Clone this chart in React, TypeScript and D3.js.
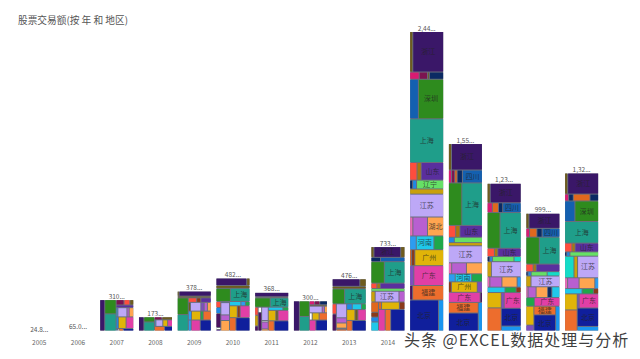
import React from "react";
import * as d3 from "d3";

type N = [string, number] | N[];

const years = ["2005","2006","2007","2008","2009","2010","2011","2012","2013","2014","2015","2016","2017","2018","2019"];
const visibleTicks = ["2005","2006","2007","2008","2009","2010","2011","2012","2013","2014"];
const totals = [24.8,65,310,173,378,482,368,300,476,733,2449,1555,1238,999,1320];
const totalLabels = ["24.8...","65.0...","310...","173...","378...","482...","368...","300...","476...","733...","2,44...","1,55...","1,23...","999...","1,32..."];

const regionColors: Record<string,string> = {
  浙江:"#3a1768",陕西:"#6e5c1e",天津:"#d81b72",重庆:"#7b1450",吉林:"#0b2a63",黑龙江:"#e0681e",四川:"#1460b0",
  深圳:"#2e8b1e",上海:"#1f9e8a",河北:"#ff4d3d",山西:"#a8780f",山东:"#5a2f9e",新疆:"#0e4f6b",云南:"#1e88e5",
  辽宁:"#66e066",贵州:"#c9a00a",江苏:"#bda8f7",甘肃:"#e86bb8",广西:"#b85fd0",湖北:"#ffa550",海南:"#2d9cf0",
  河南:"#1fc8ea",内蒙古:"#1fa84a",宁夏:"#8a3a1a",广州:"#e0b408",青海:"#7d4ec0",广东:"#e13fa6",西藏:"#4a1260",
  福建:"#ed6d2d",北京:"#101f9c",厦门:"#1a96f0",湖南:"#14dcc8",澳门:"#ffffff",
};

const bar2005: N[] = [["北京",24.8]];
const bar2006: N[] = [["北京",65]];
const bar2007: N[] = [[
  [["浙江",38]],
  [["深圳",31],["上海",56]],
  [
    [["重庆",8],["河北",6],["陕西",4]],
    [["山东",9]],
    [["海南",3],["江苏",16],["广西",4],["湖北",8]],
    [["云南",5],["广州",17],["广东",17]],
    [["云南",3],["澳门",3],["福建",9],["北京",22]],
  ],
]];
const bar2008: N[] = [[
  [["浙江",27]],
  [["深圳",12],["上海",41]],
  [
    [["重庆",5],["陕西",7]],
    [["海南",2],["江苏",10],["广州",7],["广东",7]],
    [["福建",29],["北京",23]],
  ],
]];
const bar2009: N[] = [
  [["陕西",2],["浙江",34]],
  [["陕西",12]],
  [
    [["深圳",39],["上海",58]],
    [
      [["河北",8],["宁夏",4],["山东",10]],
      [["陕西",4],["江苏",19],["青海",6],["广西",6],["湖北",7]],
      [["海南",6],["广州",17],["内蒙古",5],["福建",15]],
      [["海南",12],["广东",37],["北京",45]],
    ],
  ],
];
const bar2010: N[] = [
  [["浙江",47],["陕西",5]],
  [["陕西",20]],
  [["深圳",39],["上海",53]],
  [
    [["河北",6],["云南",6],["西藏",14],["澳门",2],["山东",10]],
    [["云南",2],["江苏",22],["广西",10],["湖北",34]],
    [
      [["河南",10],["海南",4],["内蒙古",4]],
      [["广州",19],["宁夏",7],["广东",24]],
      [["福建",29],["北京",63]],
    ],
  ],
];
const bar2011: N[] = [
  [["浙江",32]],
  [["陕西",8]],
  [["深圳",31],["上海",37]],
  [
    [["河北",6],["贵州",8],["西藏",10]],
    [["澳门",4],["西藏",20]],
    [["江苏",19],["澳门",2],["广西",10],["湖北",15]],
    [
      [["河南",10],["内蒙古",4]],
      [["广州",17],["陕西",5],["广东",24]],
      [["福建",24],["北京",58]],
    ],
  ],
];
const bar2012: N[] = [[
  [["浙江",46]],
  [["深圳",31],["上海",46]],
  [
    [["天津",4],["重庆",4],["吉林",6]],
    [["陕西",5]],
    [["江苏",17],["广西",3],["湖北",4]],
    [["澳门",4],["广州",10],["福建",12]],
    [["广东",25],[["北京",25],["四川",20]]],
  ],
]];
const bar2013: N[] = [
  [["浙江",39],["陕西",9]],
  [["陕西",16]],
  [["深圳",35],["上海",61]],
  [
    [["河北",8],["西藏",20]],
    [["江苏",27],["广西",10],["湖北",10],["澳门",2],["福建",20]],
    [
      [["云南",6],["河南",10],["内蒙古",5]],
      [["广州",17],["陕西",6],["广东",17]],
      [["福建",20],["北京",50]],
    ],
  ],
];
const bar2014: N[] = [
  [["陕西",7],["浙江",63],["陕西",10]],
  [["吉林",9],["四川",23]],
  [["深圳",63],["上海",97]],
  [["河北",7],["山西",4],["山东",29]],
  [["辽宁",20]],
  [["贵州",10],["江苏",56],["广西",14]],
  [
    [["黑龙江",17],["宁夏",8],["云南",8],["河南",17],["内蒙古",12]],
    [
      [["黑龙江",5],["广州",29],["宁夏",9]],
      [["广东",44],["福建",36],["北京",94]],
    ],
  ],
];
const bar2015: N[] = [
  [["陕西",29],["浙江",290]],
  [["天津",16],["重庆",14],["陕西",3],["吉林",24]],
  [["四川",80],["深圳",231]],
  [["上海",344]],
  [["河北",30],["山西",17],["山东",92]],
  [["吉林",6],["云南",8],["辽宁",55]],
  [["贵州",41]],
  [["江苏",180]],
  [["甘肃",14],["广西",64],["湖北",71]],
  [["海南",21],["河南",56],["内蒙古",31]],
  [["黑龙江",7],["宁夏",12],["广州",107]],
  [["青海",19],["广东",137]],
  [["西藏",10],["福建",104]],
  [["北京",264],["厦门",47]],
];
const bar2016: N[] = [
  [["陕西",18],["浙江",181]],
  [["天津",9],["重庆",9],["黑龙江",7],["吉林",15],["四川",57]],
  [["深圳",126],["上海",194]],
  [["河北",19],["山西",11],["山东",59]],
  [["云南",7],["辽宁",33]],
  [["贵州",24]],
  [["江苏",128]],
  [["甘肃",8],["广西",36],["湖北",39]],
  [["海南",12],["河南",29],["内蒙古",19]],
  [["宁夏",7],["广州",60],["青海",12]],
  [["广东",71],["西藏",5]],
  [[["福建",70],["北京",175]],[["厦门",34]]],
];
const bar2017: N[] = [
  [["陕西",13],["浙江",131]],
  [["天津",11],["黑龙江",13],["吉林",9],["四川",39]],
  [["深圳",100],["上海",164]],
  [["河北",13],["山西",6],["山东",42]],
  [["吉林",3],["云南",3],["辽宁",24],["湖南",8]],
  [["贵州",14],["江苏",98]],
  [["甘肃",6],["广西",27],["湖北",34],["海南",9]],
  [["河南",21],["内蒙古",13],["宁夏",6]],
  [
    [["广州",47],["福建",97]],
    [[["青海",10],["广东",58]],[["北京",77]],[["厦门",58]]],
  ],
];
const bar2018: N[] = [
  [["陕西",10],["浙江",102]],
  [["天津",7],["黑龙江",14],["吉林",10],["四川",34]],
  [["深圳",79],["上海",121]],
  [["河北",12],["山西",5],["山东",39]],
  [["吉林",2],["云南",3],["辽宁",15],["湖南",12]],
  [["贵州",12],["江苏",68]],
  [["甘肃",5],["广西",19],["湖北",27],["吉林",10],["河南",19]],
  [["内蒙古",16],["广东",48]],
  [
    [["广州",33],["青海",25]],
    [["福建",41],["北京",117]],
    [["厦门",31]],
  ],
];
const bar2019: N[] = [
  [["陕西",14],["浙江",142]],
  [["天津",6],["吉林",7],["黑龙江",25],["吉林",13]],
  [["四川",46],["深圳",106]],
  [["上海",160]],
  [["河北",14],["山西",6],["山东",45]],
  [["吉林",2],["云南",3],["辽宁",27]],
  [["湖南",44],["贵州",17],["江苏",99]],
  [["甘肃",7],["广西",27],["湖北",37],["海南",9]],
  [["河南",20],["内蒙古",13],["宁夏",6]],
  [
    [["广州",44],["福建",81]],
    [[["青海",6],["广东",60]],[["北京",86]],[["厦门",61]]],
  ],
];
const bars = [bar2005,bar2006,bar2007,bar2008,bar2009,bar2010,bar2011,bar2012,bar2013,bar2014,bar2015,bar2016,bar2017,bar2018,bar2019];

const isLeaf = (n: N): n is [string, number] => typeof n[0] === "string";

const x = d3.scaleBand<string>().domain(years).range([19.9, 601]).paddingInner(0.148).paddingOuter(0.074);
const y = d3.scaleLinear().domain([0, 2449]).range([339, 32]);
const font = "'Noto Sans CJK SC','Noto Sans',sans-serif";

function cellsFor(bar: N[], w: number, h: number) {
  const root = d3.hierarchy<N>(bar as N, (d) => (isLeaf(d) ? null : d))
    .sum((d) => (isLeaf(d) ? d[1] : 0));
  const tile = (node: any, a: number, b: number, c: number, e: number) =>
    (node.depth % 2 === 0 ? d3.treemapSlice : d3.treemapDice)(node, a, b, c, e);
  return d3.treemap<N>().tile(tile).size([w, h]).paddingInner(1).round(false)(root).leaves();
}

export default function App() {
  return (
    <svg width={640} height={359} style={{ position: "absolute", left: 0, top: 0, background: "#fff" }}>
      <defs>
        <clipPath id="plot"><rect x={0} y={0} width={640} height={330.5} /></clipPath>
      </defs>
      <text x={18} y={23.5} fontSize={9.7} fontFamily={font} fill="#555">股票交易额(按 年 和 地区)</text>
      <g clipPath="url(#plot)">
        {years.map((yr, i) => {
          const bx = x(yr)!, top = y(totals[i]), bh = y(0) - top, bw = x.bandwidth();
          return (
            <g key={yr} transform={`translate(${bx},${top})`}>
              <rect width={bw} height={bh} fill="#6a6e7c" />
              {cellsFor(bars[i], bw, bh).map((c, j) => {
                const [name] = c.data as [string, number];
                const w = c.x1 - c.x0, h = c.y1 - c.y0;
                const visibleBottom = Math.min(c.y1, 331 - top);
                const visibleH = visibleBottom - c.y0;
                const showLabel = w >= name.length * 7 + 1 && visibleH >= 6.9 && !(name === "湖北" && h < 15);
                return (
                  <g key={j}>
                    <rect x={c.x0} y={c.y0} width={w} height={h} fill={regionColors[name]} />
                    {showLabel && (
                      <text x={(c.x0 + c.x1) / 2} y={(c.y0 + visibleBottom) / 2 + 2.4} textAnchor="middle"
                        fontSize={7} fontFamily={font} fill="#222" fillOpacity={0.75}>{name}</text>
                    )}
                  </g>
                );
              })}
            </g>
          );
        })}
      </g>
      {years.map((yr, i) => (
        <text key={yr} x={x(yr)! + x.bandwidth() / 2} y={Math.min(y(totals[i]) - 1.5, i === 1 ? 329 : 331.5)} textAnchor="middle"
          fontSize={6.5} fontFamily={font} fill="#555">{totalLabels[i]}</text>
      ))}
      {visibleTicks.map((yr) => (
        <text key={yr} x={x(yr)! + x.bandwidth() / 2} y={345} textAnchor="middle"
          fontSize={6.5} fontFamily={font} fill="#666">{yr}</text>
      ))}
      <text x={404} y={346} fontSize={16} fontFamily={font} fill="#3f3f3f" stroke="#fff" strokeWidth={2.5}
        paintOrder="stroke" letterSpacing={1}>头条 @EXCEL数据处理与分析</text>
    </svg>
  );
}
